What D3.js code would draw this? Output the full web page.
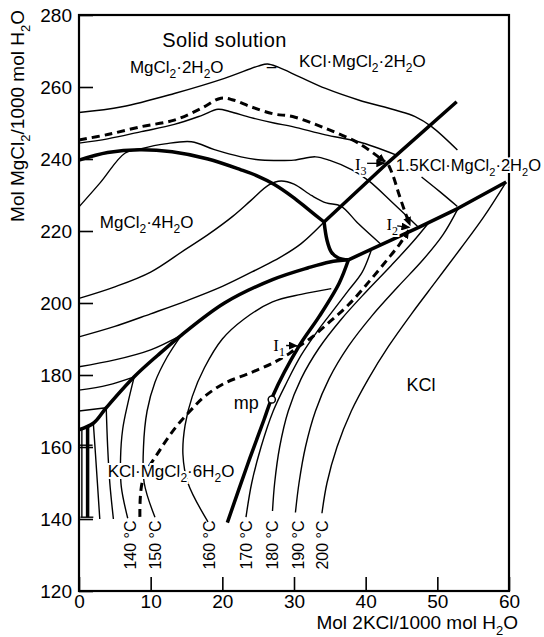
<!DOCTYPE html>
<html>
<head>
<meta charset="utf-8">
<script src="https://cdn.jsdelivr.net/npm/d3@7"></script>
<style>
body{margin:0;background:#fff}
svg{font-family:"Liberation Sans",Arial,sans-serif}
</style>
</head>
<body>
<script>
//axis ticks
var xTicks = [0, 10, 20, 30, 40, 50, 60];
var yTicks = [120, 140, 160, 180, 200, 220, 240, 260, 280];

//thick phase boundaries (mol 2KCl, mol MgCl2)
var boundaryA = [[0,239.7],[4,241.8],[8.5,242.6],[13,242],[18,240],[22.6,237],[25,235.2],[27.2,233],[29.8,229.5],[32,226],[34.2,222.5]];
var boundaryB = [[34.2,222.5],[43,238.8],[52.7,255.9]];
var boundaryJ = [[34.2,222.5],[34.6,217.5],[35.2,214.2],[36.2,212.5],[37.6,212]];
var boundaryD = [[0,164.8],[2,166.6],[3.8,170.9],[7.7,179.5],[11,185.5],[14.3,191.1],[20.3,200],[27,206.5],[32,209.8],[35,211.4],[37.6,212]];
var boundaryE = [[37.6,212],[47.4,221],[52.9,226.3],[59.6,233.6]];
var boundaryF = [[37.6,212],[36.3,205.5],[33.5,196.2],[30.7,188],[27,174],[25.8,167.5],[23.5,155],[20.7,139]];
var boundaryBox = [[1.2,165.8],[1.2,140.5]];

//thin isotherms
var ssTop = [[0,252.9],[6,254.5],[13.3,258.2],[20.3,262.4],[25,265.8],[26.3,266.4],[27.8,265.5],[30.7,262.9],[34.4,259.6],[39,256.4],[44.1,253.6],[46.9,251.8],[49.2,249],[52.8,242.5]];
var ssLow = [[0,244.4],[4,245.6],[8.7,247.6],[13.3,249.6],[17,252],[19.4,253.8],[21,253.2],[24,251.5],[27.2,250],[29.8,249],[34.4,246.7],[39,244.8],[44.3,241.1]];
var iso1 = [[0,226.7],[3,233.5],[6.4,241.6],[8.7,242.9],[12,244.2],[15.7,244.8],[18.9,242.6],[22.6,240.6],[25,239.8],[27.2,239.6],[30,239.7],[33,240.6],[35,239.6],[38.1,237],[40.4,234],[43.8,227.8],[47.4,221]];
var iso2 = [[0,201.3],[5,204.5],[10,208.6],[14.7,214.7],[18,219],[21.4,224],[24,228.5],[26.5,232.8],[28.2,233.9],[30,233],[32.5,229.8],[34.5,227.8],[36.5,227],[39,222],[42.2,216.2]];
var iso3 = [[0,190.6],[5,193.5],[10,197],[15,200.6],[20,204.6],[25,209.5],[28,212.6],[31,216.5],[34.2,222.5]];
var iso4 = [[0,182.3],[5,184.2],[10,187],[14.3,191.1]];
var iso5 = [[0,175.8],[4,177.2],[7.7,179.5]];
var iso6 = [[0,170],[3.8,170.9]];
var iso7 = [[47.8,235],[50.3,231],[52.8,226.8]];
var boxLine = [[0.4,165],[0.4,140.5]];
var boxBar = [[0,160.5],[1.9,160.5]];
var boxFoot = [[0.2,140.5],[2,140.5]];

//carnallite field isotherms
var c120 = [[2,166.6],[2.3,158],[2.9,140]];
var c130 = [[3.8,170.9],[4,160],[4.3,150],[4.8,140]];
var c140 = [[7.7,179.5],[6.8,172],[6.1,165],[5.8,157],[5.9,149],[6.8,140.2]];
var c150 = [[14.3,191.1],[12.3,185],[10.6,178],[9.5,170],[9,160],[9.1,150],[10.6,140.5]];
var c160 = [[35.2,204],[31,202.4],[27,200.3],[23,195.5],[20,190],[17.5,182],[15.8,174],[14.8,166],[14.5,158],[15.2,150],[18,139.2]];

//KCl field isotherms
var k170 = [[23.3,140.5],[24.1,150],[25.4,160],[27.1,170],[29,178],[31,185.5],[33.2,192],[35.5,198],[37.6,203.5],[39.5,208.5],[40.8,214.8]];
var k180 = [[27,142.2],[27.3,150],[28,160],[29.2,170],[31,179],[33.5,187.5],[36.6,195.5],[40,203],[43.6,210.5],[46.5,216.8],[48.8,222.3]];
var k190 = [[30.2,141.8],[30.7,150],[31.6,160],[33,170],[34.9,179],[37.6,188],[40.9,196.5],[44.5,204.5],[48,212],[50.8,219],[52.9,226.3]];
var k200 = [[33.9,141.6],[34.6,150],[36,160],[38,170],[40.4,179],[43.2,188],[46.4,197],[49.8,206],[53.2,215],[56.5,224],[59.6,233.6]];

//crystallization paths (dashed)
var pathTop = [[0,245.3],[4,246.8],[8.7,249],[13.3,250.8],[17,254],[19.8,256.9],[21.5,256.4],[24,254.5],[27.2,252.5],[29.8,251.8],[34.4,248.5],[39,244.4],[42.7,239.2]];
var pathI3I2 = [[43.2,238.3],[43.8,235.5],[44.6,230.5],[45.5,225.2],[46.2,221.6]];
var pathLow = [[8.5,140.6],[8.9,150.8],[11.3,159.2],[13.5,165.5],[15.5,170],[17.5,174],[20.3,177.7],[23.8,180.5],[27.2,183.5],[29.5,186.2],[30.7,188],[32.5,190.5],[35,194.8],[37.6,199.5],[40.5,206],[43,212],[44.8,216.5],[46,220.2]];

//temperature labels
var tempLabels = ["140 °C", "150 °C", "160 °C", "170 °C", "180 °C", "190 °C", "200 °C"];
var tempPos = [7.1, 10.6, 18.2, 23.3, 26.9, 30.5, 33.9];

//phase labels
var phaseNames = ["MgCl_2·2H_2O", "–", "KCl·MgCl_2·2H_2O", "MgCl_2·4H_2O", "1.5KCl·MgCl_2·2H_2O", "KCl·MgCl_2·6H_2O", "KCl", "mp"];
var phasePos = [[7.1,263.9],[26.2,264.2],[30.7,265.6],[2.9,220.8],[44.2,236.7],[4,151.7],[45.7,175.6],[21.6,170.6]];

var meltPoint = [26.9, 173.2];
var invariantNames = ["I_3", "I_2", "I_1"];
var invariantPos = [[38.5,237],[42.9,220.4],[27.1,186.8]];
var invariantArrows = [[[40.2,238.8],[42.6,238.8]], [[44.4,221.4],[46.1,221]], [[28.9,188.2],[30.4,188.1]]];

var width = 544, height = 637;

var svg = d3.select("body")
    .append("svg")
    .attr("width", width)
    .attr("height", height);

var x = d3.scaleLinear().domain([0, 60]).range([79, 509]);
var y = d3.scaleLinear().domain([120, 280]).range([591, 15]);

//arrow marker
svg.append("defs").append("marker")
    .attr("id", "arr")
    .attr("markerUnits", "userSpaceOnUse")
    .attr("markerWidth", 10)
    .attr("markerHeight", 8)
    .attr("refX", 8)
    .attr("refY", 4)
    .attr("orient", "auto")
    .append("path")
    .attr("d", "M0,0 L9,4 L0,8 z")
    .attr("fill", "#000");

var smooth = d3.line()
    .x(function(d){ return x(d[0]); })
    .y(function(d){ return y(d[1]); })
    .curve(d3.curveCatmullRom.alpha(0.5));

var straight = d3.line()
    .x(function(d){ return x(d[0]); })
    .y(function(d){ return y(d[1]); });

function draw(data, line, w, dash, marker){
    var p = svg.append("path")
        .datum(data)
        .attr("d", line)
        .attr("fill", "none")
        .attr("stroke", "#000")
        .attr("stroke-width", w)
        .attr("stroke-linejoin", "round");
    if (dash) p.attr("stroke-dasharray", dash);
    if (marker) p.attr("marker-end", "url(#arr)");
    return p;
}

//thin lines
[ssTop, ssLow, iso1, iso2, iso3, iso4, iso5, iso6, iso7, c120, c130, c140, c150, c160, k170, k180, k190, k200]
    .forEach(function(d){ draw(d, smooth, 1.4); });
[boxLine, boxBar, boxFoot].forEach(function(d){ draw(d, straight, 1.4); });

//thick boundaries
[boundaryA, boundaryD, boundaryF, boundaryJ].forEach(function(d){ draw(d, smooth, 3.5); });
[boundaryB, boundaryE, boundaryBox].forEach(function(d){ draw(d, straight, 3.5); });

//dashed paths
draw(pathTop, smooth, 3, "8,5", true);
draw(pathI3I2, smooth, 3, "8,5", true);
draw(pathLow, smooth, 3, "8,5", true);

//frame
svg.append("rect")
    .attr("x", x(0)).attr("y", y(280))
    .attr("width", x(60) - x(0)).attr("height", y(120) - y(280))
    .attr("fill", "none").attr("stroke", "#000").attr("stroke-width", 2.2);

//axes
var xAxis = svg.append("g")
    .attr("transform", "translate(0," + y(120) + ")")
    .call(d3.axisBottom(x).tickValues(xTicks).tickSize(-14).tickPadding(3).tickSizeOuter(0));
var yAxis = svg.append("g")
    .attr("transform", "translate(" + x(0) + ",0)")
    .call(d3.axisLeft(y).tickValues(yTicks).tickSize(-14).tickPadding(7).tickSizeOuter(0));
[xAxis, yAxis].forEach(function(a){
    a.attr("font-size", 19).attr("font-family", "Liberation Sans, Arial, sans-serif");
    a.select(".domain").remove();
    a.selectAll("line").attr("stroke-width", 1.6);
    a.selectAll("text").attr("font-size", 19).attr("fill", "#000");
});

//text with subscripts (_x marks a subscript char)
function rich(str, px, py, size, opts){
    opts = opts || {};
    var t = svg.append("text")
        .attr("x", px).attr("y", py)
        .attr("font-size", size)
        .attr("text-anchor", opts.anchor || "start");
    if (opts.transform) t.attr("transform", opts.transform);
    if (opts.family) t.attr("font-family", opts.family);
    if (opts.halo) t.attr("stroke", "#fff").attr("stroke-width", 4).attr("paint-order", "stroke");
    var sub = false, down = false, shift = Math.round(size * 0.32);
    var run = "";
    function flush(){
        if (!run) return;
        var s = t.append("tspan").attr("font-size", size).text(run);
        if (down){ s.attr("dy", -shift); down = false; }
        run = "";
    }
    for (var i = 0; i < str.length; i++){
        var c = str[i];
        if (c === "_"){ sub = true; continue; }
        if (sub){
            flush();
            t.append("tspan").attr("font-size", Math.round(size * 0.68)).attr("dy", shift).text(c);
            down = true;
            sub = false;
        } else {
            run += c;
        }
    }
    flush();
    return t;
}

rich("Solid solution", x(20.3), y(271.1), 20, {anchor: "middle"}).attr("letter-spacing", 0.4);
phaseNames.forEach(function(n, i){
    var sz = (n === "KCl" || n === "mp") ? 18 : 17;
    if (i === 4) sz = 16.5;
    var halo = (i === 4 || i === 5 || i === 6 || i === 7);
    rich(n, x(phasePos[i][0]), y(phasePos[i][1]), sz, {halo: halo});
});

//melting point marker
svg.append("circle")
    .attr("cx", x(meltPoint[0])).attr("cy", y(meltPoint[1]))
    .attr("r", 3.6).attr("fill", "#fff").attr("stroke", "#000").attr("stroke-width", 1.5);

//invariant points
invariantNames.forEach(function(n, i){
    rich(n, x(invariantPos[i][0]), y(invariantPos[i][1]), 17, {family: "Liberation Serif, serif", halo: true});
    draw(invariantArrows[i], straight, 1.3, null, true);
});

//temperature labels, rotated
tempLabels.forEach(function(t, i){
    var px = x(tempPos[i]), py = y(139.6);
    svg.append("text")
        .attr("transform", "translate(" + (px + 6) + "," + py + ") rotate(-90)")
        .attr("text-anchor", "end")
        .attr("font-size", 16)
        .text(t);
});

//axis titles
rich("Mol 2KCl/1000 mol H_2O", 518, 629, 19, {anchor: "end"});
rich("Mol MgCl_2/1000 mol H_2O", 0, 0, 19, {anchor: "end", transform: "translate(24,10) rotate(-90)"});
</script>
</body>
</html>
